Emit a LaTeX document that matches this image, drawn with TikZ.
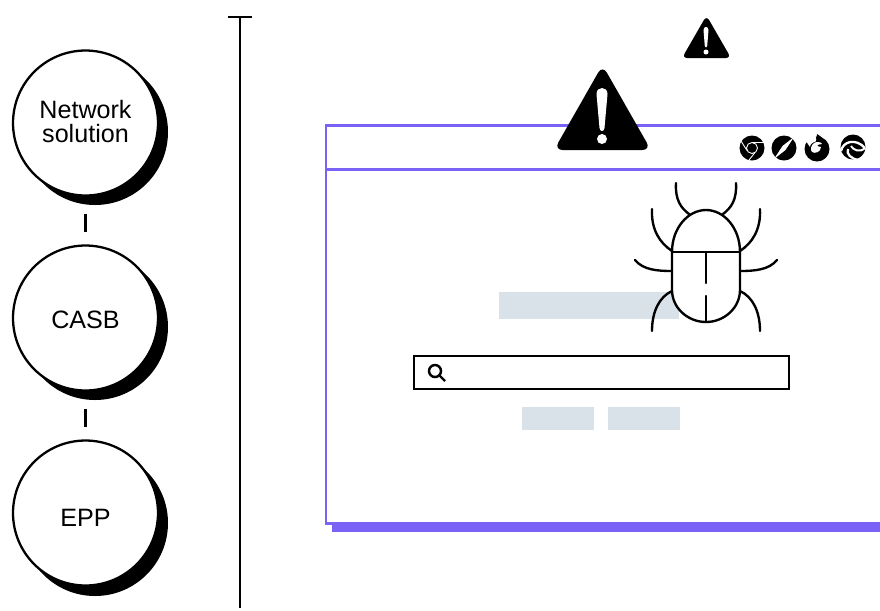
\documentclass[tikz,border=0pt]{standalone}
\usepackage{fontspec}
\setmainfont{Liberation Sans}
\usepackage{xcolor}
\usetikzlibrary{positioning}
\definecolor{winpurple}{HTML}{7A62F6}
\definecolor{panelgray}{HTML}{DAE2E9}
\tikzset{
  stagecircle/.style={circle,draw=black,fill=white,line width=1.3pt,minimum size=2.9cm,inner sep=0pt,align=center,font=\fontsize{14.3}{13.8}\selectfont},
  stagetick/.style={line width=1.4pt,shorten >=0.24cm,shorten <=0.34cm},
  winline/.style={winpurple,line width=1.7pt},
  buglegs/.style={line width=1.35pt,line cap=round},
  grayblock/.style={fill=panelgray,draw=none,inner sep=0pt},
}
\begin{document}
\begin{tikzpicture}[x=0.02cm,y=-0.02cm]
\useasboundingbox (0,0) rectangle (880,610);

%% Stages on the left
\foreach \y in {132,327,523}{
  \fill (95,\y) circle (73);
}
\node[stagecircle] (network) at (85.5,123) {Network\\solution\rule[-1.7pt]{0pt}{1pt}};
\node[stagecircle] (casb) at (85.5,318) {\rule{0pt}{12.5pt}CASB};
\node[stagecircle] (epp) at (85.5,513) {\rule{0pt}{15.3pt}EPP};
\draw[stagetick] (network) -- (casb);
\draw[stagetick] (casb) -- (epp);

%% Timeline
\coordinate (timetop) at (240,17);
\coordinate (timebottom) at (240,608);
\coordinate (capleft) at (228,17);
\coordinate (capright) at (252,17);
\draw[line width=1.4pt] (timetop) -- (timebottom);
\draw[line width=1.4pt] (capleft) -- (capright);

%% Browser window
\fill[winpurple] (332,523) rectangle (880,532);
\draw[winline] (880,125.5) -- (326,125.5) -- (326,523) -- (880,523);
\draw[winline] (326,169) -- (880,169);

%% Page blocks
\node[grayblock,minimum width=3.6cm,minimum height=0.54cm] (title) at (589,305.5) {};
\node[grayblock,minimum width=1.44cm,minimum height=0.46cm] (btnleft) at (558,418.5) {};
\node[grayblock,minimum width=1.44cm,minimum height=0.46cm] (btnright) at (644,418.5) {};

%% Search box
\draw[line width=0.7pt] (414,356) rectangle (789,389);
\draw[line width=1.4pt] (435,371) circle (6);
\draw[line width=1.4pt] (439.5,375.5) -- (445,381);

%% Bug
\draw[buglegs] (676,183) .. controls (675,200) and (681,208) .. (689,214);
\draw[buglegs] (736,183) .. controls (737,200) and (731,208) .. (723,214);
\draw[buglegs] (652,209) .. controls (651,230) and (660,243) .. (672,251);
\draw[buglegs] (760,209) .. controls (761,230) and (752,243) .. (740,251);
\draw[buglegs] (635,260) .. controls (643,270) and (658,271) .. (672,271);
\draw[buglegs] (777,260) .. controls (769,270) and (754,271) .. (740,271);
\draw[buglegs] (672,291) .. controls (659,297) and (652,312) .. (652,331);
\draw[buglegs] (740,291) .. controls (753,297) and (760,312) .. (760,331);
\draw[buglegs,fill=white] (672,252) .. controls (672,228) and (688,210) .. (706,210)
  .. controls (724,210) and (740,228) .. (740,252) -- (740,290)
  .. controls (740,308) and (724,322) .. (706,322)
  .. controls (688,322) and (672,308) .. (672,290) -- cycle;
\draw[buglegs] (672,252) -- (740,252);
\draw[buglegs] (706,252) -- (706,283);
\draw[buglegs] (706,296) -- (706,322);

%% Warning signs
\fill[rounded corners=5] (602.5,65) -- (651,150) -- (554,150) -- cycle;
\fill[white] (596.5,94) .. controls (596.5,86) and (607.5,86) .. (607.5,94) -- (604.5,128)
  .. controls (604,132) and (600,132) .. (599.5,128) -- cycle;
\fill[white] (602,139) circle (5);
\fill[rounded corners=3] (706.5,15.5) -- (731,58) -- (682,58) -- cycle;
\fill[white] (703.5,30) .. controls (703.5,26) and (708.5,26) .. (708.5,30) -- (707.2,46)
  .. controls (707,48) and (705,48) .. (704.8,46) -- cycle;
\fill[white] (706,52) circle (2.5);

%% Browser icons
\fill (752,148) circle (12.5);
\draw[white,line width=0.5pt] (752,148) circle (5.5);
\draw[white,line width=0.5pt] (752,142.5) -- (764,142.5);
\draw[white,line width=0.5pt] (747,150.5) -- (741,141);
\draw[white,line width=0.5pt] (755,152.5) -- (749,160);

\fill (784,148) circle (12.5);
\fill[white] (794,137) -- (785.5,150) -- (774,159) -- (782.5,146) -- cycle;

\fill (817,149) circle (12.5);
\fill[white] (806,141) .. controls (808,138) and (811,136) .. (815,135) -- (817,141)
  .. controls (813,142) and (810,144) .. (810,147) -- cycle;
\fill (817,134) .. controls (822,137) and (825,140) .. (825,146) -- (816,142) -- cycle;
\fill[white] (814,143) .. controls (817,141) and (821,142) .. (822,144)
  .. controls (819,144) and (817,145) .. (817,146) -- (821,147)
  .. controls (821,152) and (815,154) .. (812,152)
  .. controls (810,150) and (811,145) .. (814,143) -- cycle;

\fill (853,147) circle (12.5);
\draw[white,line width=1.3pt] (841,151) .. controls (843,141) and (856,138) .. (865,148);
\draw[white,line width=1.1pt] (865,148) .. controls (860,153) and (853,150) .. (851,146);
\draw[white,line width=1.3pt] (848,149) .. controls (846,154) and (851,159) .. (859,160);

\end{tikzpicture}
\end{document}
